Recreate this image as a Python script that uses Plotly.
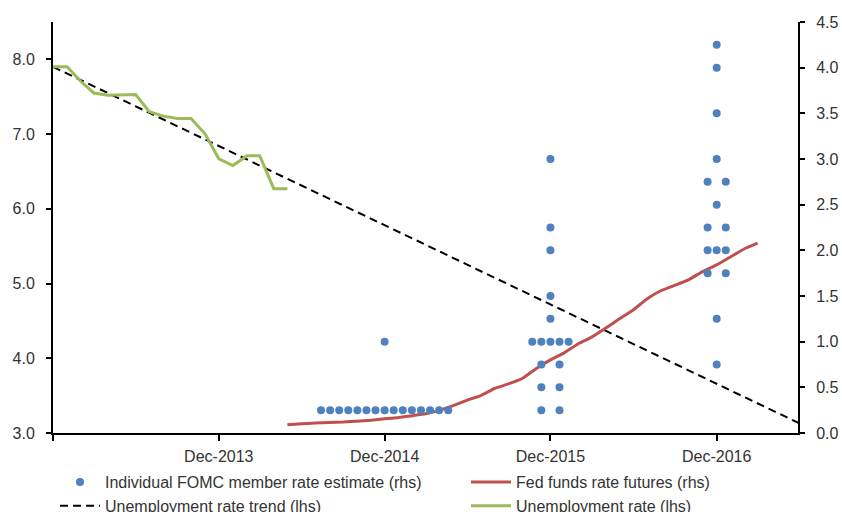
import pandas as pd
import plotly.graph_objects as go

# ---------------- data ----------------
unemp_dates = pd.date_range("2012-12-01", "2014-05-01", freq="MS")
unemp_values = [7.9, 7.9, 7.7, 7.55, 7.52, 7.52, 7.53, 7.3, 7.24, 7.21, 7.21, 7.0,
                6.67, 6.58, 6.71, 6.71, 6.27, 6.27]

trend_dates = ["2012-12-01", "2017-06-01"]
trend_values = [7.9, 3.13]

futures_dates = pd.date_range("2014-05-01", "2017-03-01", freq="MS")
futures_values = [0.09, 0.10, 0.11, 0.115, 0.12, 0.13, 0.14, 0.155, 0.17, 0.19, 0.21, 0.25,
                  0.30, 0.36, 0.41, 0.49, 0.54, 0.60, 0.71, 0.80, 0.88, 0.98, 1.05, 1.15,
                  1.25, 1.35, 1.47, 1.56, 1.62, 1.68, 1.77, 1.84, 1.93, 2.02, 2.08]

fomc_years = ["2014-12-01", "2015-12-01", "2016-12-01"]
fomc_2014 = [0.25, 0.25, 0.25, 0.25, 0.25, 0.25, 0.25, 0.25, 0.25, 0.25, 0.25, 0.25,
             0.25, 0.25, 0.25, 1.0]
fomc_2015 = [0.25, 0.25, 0.5, 0.5, 0.75, 0.75, 1.0, 1.0, 1.0, 1.0, 1.0, 1.25, 1.5,
             2.0, 2.25, 3.0]
fomc_2016 = [0.75, 1.25, 1.75, 1.75, 2.0, 2.0, 2.0, 2.25, 2.25, 2.5, 2.75, 2.75, 3.0,
             3.5, 4.0, 4.25]
fomc_sets = [fomc_2014, fomc_2015, fomc_2016]

xtick_dates = ["2012-12-01", "2013-12-01", "2014-12-01", "2015-12-01", "2016-12-01"]
xtick_text = ["", "Dec-2013", "Dec-2014", "Dec-2015", "Dec-2016"]
lhs_ticks = [3, 4, 5, 6, 7, 8]
rhs_ticks = [0, 0.5, 1, 1.5, 2, 2.5, 3, 3.5, 4, 4.5]

# ---------------- style ----------------
FONT = "Liberation Sans, Arial, sans-serif"
TXT = "#333333"
BLUE = "#4F81BD"
RED = "#C0504D"
GREEN = "#9BBB59"
X_RANGE = ["2012-12-01", "2017-05-29"]
DODGE_DAYS = 20

# dodge layout for the dot plot (computed from the values)
dot_x, dot_y = [], []
for center, vals in zip(fomc_years, fomc_sets):
    c = pd.Timestamp(center)
    for v in sorted(set(vals)):
        n = vals.count(v)
        if n % 2 == 1:
            offs = list(range(-(n // 2), n // 2 + 1))
        else:
            offs = [k for k in range(-(n // 2), n // 2 + 1) if k != 0]
        for k in offs:
            dot_x.append(c + pd.Timedelta(days=DODGE_DAYS * k))
            dot_y.append(v)

fig = go.Figure()
fig.add_trace(go.Scatter(x=trend_dates, y=trend_values, mode="lines",
                         name="Unemployment rate trend (lhs)",
                         line=dict(color="black", width=2, dash="8px,5px"),
                         legend="legend", legendrank=2, yaxis="y"))
fig.add_trace(go.Scatter(x=unemp_dates, y=unemp_values, mode="lines",
                         name="Unemployment rate (lhs)",
                         line=dict(color=GREEN, width=3),
                         legend="legend2", legendrank=2, yaxis="y"))
fig.add_trace(go.Scatter(x=futures_dates, y=futures_values, mode="lines",
                         name="Fed funds rate futures (rhs)",
                         line=dict(color=RED, width=3, shape="spline", smoothing=0.3),
                         legend="legend2", legendrank=1, yaxis="y2"))
fig.add_trace(go.Scatter(x=dot_x, y=dot_y, mode="markers",
                         name="Individual FOMC member rate estimate (rhs)",
                         marker=dict(color=BLUE, size=8, line=dict(width=0)),
                         legend="legend", legendrank=1, yaxis="y2"))

axis_common = dict(showgrid=False, zeroline=False, linecolor="black", linewidth=2,
                   tickcolor="black", tickwidth=2,
                   tickfont=dict(family=FONT, size=16, color=TXT))

legend_common = dict(orientation="v", xref="container", yref="container",
                     xanchor="left", yanchor="top",
                     font=dict(family=FONT, size=16, color=TXT),
                     itemwidth=40, bgcolor="rgba(0,0,0,0)", borderwidth=0,
                     traceorder="normal", tracegroupgap=0)

fig.update_layout(
    width=842, height=512,
    margin=dict(l=53, r=44, t=22, b=79, autoexpand=False),
    paper_bgcolor="white", plot_bgcolor="white",
    font=dict(family=FONT, size=16, color=TXT),
    showlegend=True,
    xaxis=dict(type="date", range=X_RANGE, tickvals=xtick_dates, ticktext=xtick_text,
               showline=True, ticks="outside", ticklen=6, ticklabelstandoff=2,
               **axis_common),
    xaxis2=dict(type="date", range=X_RANGE, tickvals=xtick_dates, overlaying="x",
                anchor="y", side="bottom", showline=False, showgrid=False,
                zeroline=False, showticklabels=False, ticks="inside", ticklen=6,
                tickwidth=2, tickcolor="black"),
    yaxis=dict(range=[3, 8.5], tickvals=lhs_ticks, tickformat=".1f", showline=True,
               ticks="outside", ticklen=5, ticklabelstandoff=8, **axis_common),
    yaxis2=dict(range=[0, 4.5], tickvals=rhs_ticks, tickformat=".1f", overlaying="y",
                side="right", anchor="x", showline=True, ticks="outside", ticklen=5,
                ticklabelstandoff=8, **axis_common),
    yaxis3=dict(range=[3, 8.5], tickvals=lhs_ticks, overlaying="y", side="left",
                anchor="x", showline=False, showgrid=False, zeroline=False,
                showticklabels=False, ticks="inside", ticklen=5, tickwidth=2,
                tickcolor="black"),
    yaxis4=dict(range=[0, 4.5], tickvals=rhs_ticks, overlaying="y", side="right",
                anchor="x", showline=False, showgrid=False, zeroline=False,
                showticklabels=False, ticks="inside", ticklen=5, tickwidth=2,
                tickcolor="black"),
    legend=dict(x=55 / 842, y=1 - 465 / 512, **legend_common),
    legend2=dict(x=466 / 842, y=1 - 465 / 512, **legend_common),
)

fig.write_html("out.html", config={"displayModeBar": False},
               post_script="document.body.style.margin='0';")
